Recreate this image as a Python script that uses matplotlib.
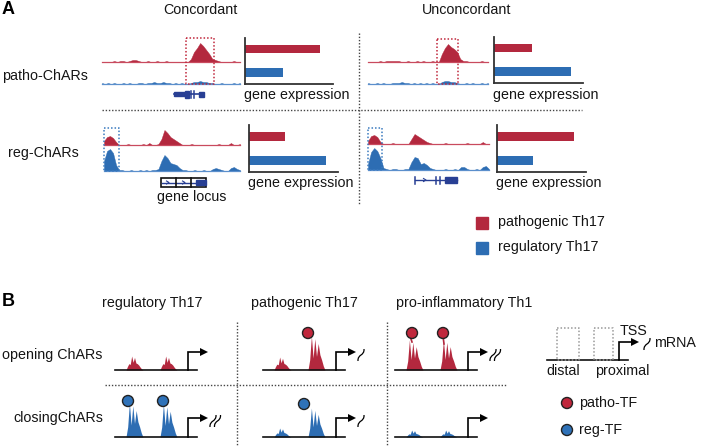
import matplotlib
matplotlib.use('Agg')
import matplotlib.pyplot as plt
from matplotlib.path import Path
from matplotlib.patches import PathPatch, Rectangle, Circle, Polygon
import numpy as np

plt.rcParams['font.family'] = ['Liberation Sans', 'DejaVu Sans']

W, H = 701, 446
RED = '#b3283e'
BLUE = '#2d6db3'
RED_LINE = '#c94a5e'
BLUE_LINE = '#5b8fcc'
CIRC_RED = '#c0273c'
CIRC_BLUE = '#2f72b8'
GENE = '#283f94'
DOT = '#444444'
FS = 10.3

# ---------------- data ----------------
# gene expression (0-100 scale): [regulatory Th17 (blue), pathogenic Th17 (red)]
conc_patho_expr = [43, 85]
conc_reg_expr = [86, 41]
unconc_patho_expr = [87, 43]
unconc_reg_expr = [41, 86]

# ATAC-like track heights (px) along each locus
conc_patho_red = [0, 0, 0, 0, 1, 0, 1, 1, 0, 1, 2, 2, 1, 0, 0, 1, 0, 0, 1, 0, 0, 1, 0, 0, 0, 0, 0, 0,
                  0, 3, 10, 14, 19, 16, 12, 8, 3, 2, 1, 0, 0, 0, 0, 1, 0, 0]
conc_patho_blue = [1, 0, 1, 0, 1, 0, 0, 1, 0, 1, 0, 0, 1, 1, 0, 1, 1, 2, 1, 1, 2, 1, 1, 0, 1, 0, 1, 0,
                   0, 1, 2, 2, 3, 2, 2, 1, 1, 0, 0, 1, 0, 0, 0, 1, 0, 1]
conc_reg_red = [4, 8, 9, 7, 3, 0, 0, 0, 1, 0, 0, 0, 0, 1, 0, 2, 0, 0, 1, 6, 15, 12, 8, 6, 4, 2, 0, 0,
                0, 1, 0, 0, 0, 0, 0, 0, 0, 0, 1, 0, 0, 0, 2, 0, 0, 1]
conc_reg_blue = [10, 20, 22, 18, 6, 1, 1, 0, 0, 1, 0, 0, 1, 0, 1, 0, 1, 1, 2, 10, 16, 13, 8, 7, 6, 3,
                 1, 1, 0, 0, 1, 0, 0, 1, 0, 0, 2, 3, 2, 1, 0, 0, 3, 4, 2, 1]
unconc_patho_red = [0, 0, 0, 0, 1, 0, 1, 1, 1, 1, 1, 0, 0, 1, 0, 0, 1, 0, 1, 0, 0, 1, 0, 0, 8, 14, 18,
                    15, 13, 10, 3, 1, 1, 0, 0, 0, 0, 1, 0, 0]
unconc_patho_blue = [1, 0, 0, 1, 0, 1, 0, 0, 1, 1, 1, 2, 1, 1, 0, 1, 0, 1, 0, 1, 0, 1, 0, 0, 2, 3, 3,
                     2, 2, 1, 0, 0, 1, 0, 1, 0, 0, 1, 0, 1]
unconc_reg_red = [3, 8, 9, 7, 2, 0, 0, 0, 1, 0, 0, 0, 0, 0, 5, 10, 8, 6, 4, 2, 1, 0, 0, 0, 0, 1, 0, 0,
                  0, 0, 0, 0, 1, 0, 0, 0, 0, 2, 0, 0]
unconc_reg_blue = [6, 18, 22, 19, 12, 2, 1, 0, 1, 1, 0, 0, 1, 1, 8, 13, 12, 6, 7, 5, 2, 1, 0, 0, 0, 1,
                   0, 0, 1, 0, 3, 3, 1, 0, 0, 1, 0, 3, 4, 1]

# panel B: peak heights (distal, proximal) per cell type
b_cells = ['regulatory Th17', 'pathogenic Th17', 'pro-inflammatory Th1']
b_open_heights = [[14, 14], [13, 34], [30, 30]]
b_close_heights = [[34, 33], [9, 29], [7, 7]]
b_open_mrna = [0, 1, 2]     # number of mRNA squiggles
b_close_mrna = [2, 1, 0]

peak_small = [0, .25, .45, .40, 1.0, .55, .9, .5, .45, .35, .2, .08, 0]
peak_tall = [0, .3, 1.0, .35, .92, .4, .78, .45, .3, .12, 0]

# ---------------- figure ----------------
fig = plt.figure(figsize=(W / 100, H / 100), dpi=100)
ax = fig.add_axes([0, 0, 1, 1])
ax.set_xlim(0, W)
ax.set_ylim(H, 0)
ax.axis('off')


def txt(x, y, s, ha='left', **kw):
    ax.text(x, y, s, ha=ha, va='center', fontsize=kw.pop('fs', FS), color=kw.pop('color', '#151515'), **kw)


def dotted(xs, ys, color=DOT, lw=1.0):
    ax.plot(xs, ys, color=color, lw=lw, linestyle=(0, (1, 1.3)))


def dotted_box(x0, y0, x1, y1, color):
    dotted([x0, x1, x1, x0, x0], [y0, y0, y1, y1, y0], color=color, lw=1.1)


def track(x0, x1, base, heights, color, line_color):
    x = np.linspace(x0, x1, len(heights))
    ax.fill_between(x, base, base - np.array(heights), color=color, lw=0.3, edgecolor=color)
    ax.plot([x0, x1], [base, base], color=line_color, lw=0.9)


def bars(left, right, top, bottom, vals):
    bax = fig.add_axes([left / W, 1 - bottom / H, (right - left) / W, (bottom - top) / H])
    bax.barh([0, 1], vals, height=0.38, color=[BLUE, RED])
    bax.set_xlim(0, 100)
    bax.set_ylim(-0.49, 1.47)
    bax.set_xticks([])
    bax.set_yticks([])
    for s in ['top', 'right']:
        bax.spines[s].set_visible(False)
    for s in ['left', 'bottom']:
        bax.spines[s].set_linewidth(1.3)
        bax.spines[s].set_color('#333333')
    bax.patch.set_alpha(0)
    txt(left - 1, bottom + 11.5, 'gene expression')


# ---- panel A ----
ax.text(2, 9, 'A', fontsize=13, fontweight='bold', va='center', ha='left')
txt(200, 10, 'Concordant', ha='center')
txt(467, 10, 'Unconcordant', ha='center')
txt(2, 76, 'patho-ChARs')
txt(8, 153, 'reg-ChARs')

dotted([359, 359], [33, 205])
dotted([102, 582], [110, 110])

track(102, 240, 62, conc_patho_red, RED, RED_LINE)
track(102, 240, 84, conc_patho_blue, BLUE, BLUE_LINE)
track(104, 240, 145, conc_reg_red, RED, RED_LINE)
track(104, 240, 171, conc_reg_blue, BLUE, BLUE_LINE)
track(368, 488, 62, unconc_patho_red, RED, RED_LINE)
track(368, 488, 84, unconc_patho_blue, BLUE, BLUE_LINE)
track(368, 489, 144, unconc_reg_red, RED, RED_LINE)
track(368, 489, 170, unconc_reg_blue, BLUE, BLUE_LINE)

dotted_box(186, 38, 214, 84, CIRC_RED)
dotted_box(104, 128, 119, 171, '#3a7abf')
dotted_box(437, 39, 458, 84, CIRC_RED)
dotted_box(368, 128, 382, 170, '#3a7abf')

# gene glyph (concordant, top)
ax.plot([174, 204], [94, 94], color=GENE, lw=1.2)
ax.add_patch(Rectangle((174, 92), 11, 4, color=GENE))
ax.add_patch(Rectangle((185, 90.5), 4, 7, color=GENE))
for gx in [191, 194]:
    ax.plot([gx, gx], [90.5, 97.5], color=GENE, lw=1.1)
ax.add_patch(Rectangle((199, 91.5), 5, 5, color=GENE))

# gene locus box (concordant, bottom)
ax.add_patch(Rectangle((161, 178), 45, 9, fill=False, ec='#111111', lw=1.2))
ax.plot([162, 205], [182.5, 182.5], color=GENE, lw=1.0)
for gx in [176, 191]:
    ax.plot([gx, gx], [178, 187], color='#111111', lw=1.2)
for gx in [168, 184]:
    ax.plot([gx - 1.5, gx + 1, gx - 1.5], [181, 182.5, 184], color=GENE, lw=0.8)
ax.add_patch(Rectangle((196, 180), 10, 5, color=GENE))
txt(192, 197.5, 'gene locus', ha='center')

# gene glyph (unconcordant, bottom)
ax.plot([415, 457], [180, 180], color=GENE, lw=1.0)
for gx in [415, 436, 440]:
    ax.plot([gx, gx], [176.5, 183.5], color=GENE, lw=1.1)
for gx in [425, 448]:
    ax.plot([gx - 1.5, gx + 1, gx - 1.5], [178.5, 180, 181.5], color=GENE, lw=0.8)
ax.add_patch(Rectangle((445, 177), 12, 6, color=GENE))

bars(245, 333, 38, 84, conc_patho_expr)
bars(249, 338, 125, 172, conc_reg_expr)
bars(494, 583, 37, 83, unconc_patho_expr)
bars(497, 586, 125, 172, unconc_reg_expr)

# legend A
ax.add_patch(Rectangle((476, 217), 12, 11.5, color=RED))
ax.add_patch(Rectangle((476, 242), 12, 11.5, color=BLUE))
txt(498, 222, 'pathogenic Th17')
txt(498, 247, 'regulatory Th17')

# ---- panel B ----
ax.text(2, 301, 'B', fontsize=13, fontweight='bold', va='center', ha='left')
txt(2, 355, 'opening ChARs')
txt(13, 418, 'closingChARs')
dotted([237, 237], [322, 446])
dotted([387, 387], [322, 446])
dotted([105, 507], [385, 385])


def tss_arrow(x, base, top, length=20):
    ax.plot([x, x, x + length - 6], [base, top, top], color='k', lw=1.2, solid_joinstyle='miter')
    ax.add_patch(Polygon([[x + length - 8, top - 4], [x + length, top], [x + length - 8, top + 4]],
                         closed=True, color='k', lw=0))


def squiggle(cx, cy, n=1):
    for k in range(n):
        ox = cx + k * 4.5
        verts = [(ox - 3, cy + 6), (ox - 3.5, cy - 1), (ox + 3.5, cy + 1), (ox + 3, cy - 6)]
        codes = [Path.MOVETO, Path.CURVE4, Path.CURVE4, Path.CURVE4]
        ax.add_patch(PathPatch(Path(verts, codes), fill=False, lw=0.9, ec='k'))


def tf(x, y, color):
    ax.add_patch(Circle((x, y), 5.5, fc=color, ec='#222222', lw=1.0, zorder=5))


cell_x = [115, 263, 395]
title_x = [152, 304, 464]
for i, cx in enumerate(cell_x):
    txt(title_x[i], 303, b_cells[i], ha='center')
    for base, top, heights, color, nm in [(370, 352, b_open_heights[i], RED, b_open_mrna[i]),
                                          (437, 418, b_close_heights[i], BLUE, b_close_mrna[i])]:
        for off, h in zip([11, 45], heights):
            shape = peak_tall if h >= 20 else peak_small
            xs = np.linspace(cx + off, cx + off + 17, len(shape))
            ax.fill_between(xs, base, base - h * np.array(shape), color=color, lw=0)
        ax.plot([cx, cx + 82], [base, base], color='#111111', lw=1.2)
        tss_arrow(cx + 73, base, top)
        if nm:
            squiggle(cx + 98, top + 3, nm)

# TF circles
tf(128, 401, CIRC_BLUE)
tf(163, 401, CIRC_BLUE)
tf(308, 333, CIRC_RED)
tf(304, 404, CIRC_BLUE)
ax.plot([410, 412], [336, 342], color=RED, lw=1.2)
ax.plot([443, 444], [336, 344], color=RED, lw=1.2)
tf(412, 333, CIRC_RED)
tf(443, 333, CIRC_RED)

# schematic legend B
ax.plot([547, 628], [360, 360], color='#111111', lw=1.2)
dotted_box(557, 328, 579, 360, '#999999')
dotted_box(594, 328, 613, 360, '#999999')
tss_arrow(619, 360, 342)
txt(620, 331, 'TSS')
squiggle(647, 344, 1)
txt(654, 343, 'mRNA')
txt(563, 371, 'distal', ha='center')
txt(622, 371, 'proximal', ha='center')
tf(567, 403, CIRC_RED)
tf(567, 430, CIRC_BLUE)
txt(579, 403, 'patho-TF')
txt(579, 430, 'reg-TF')

fig.savefig('out.png', dpi=100)
